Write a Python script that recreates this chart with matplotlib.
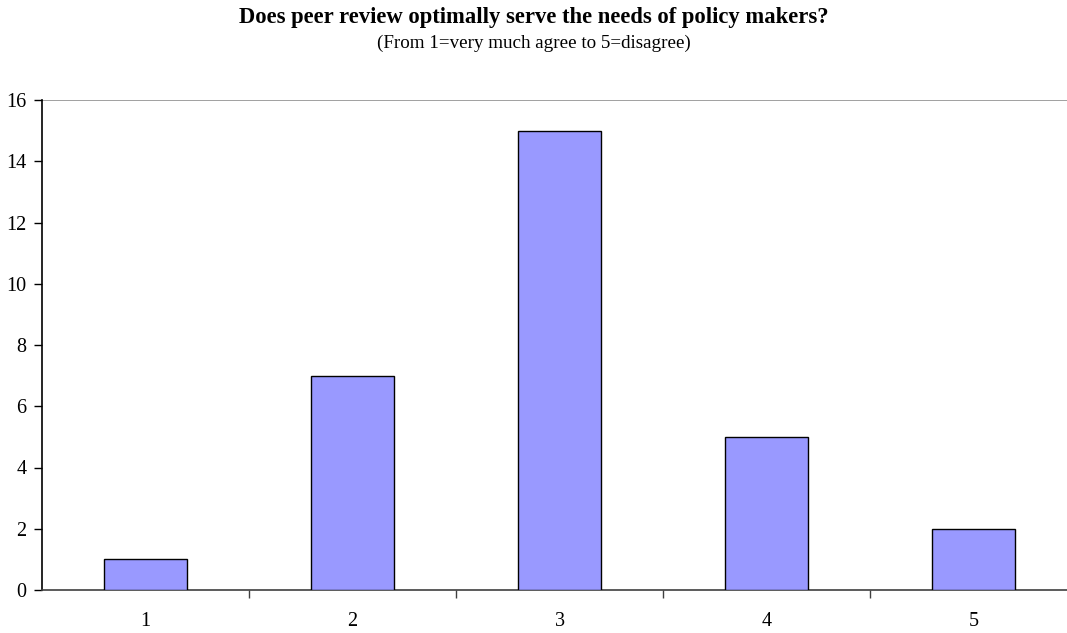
import matplotlib
matplotlib.use("Agg")
import matplotlib.pyplot as plt

categories = ["1", "2", "3", "4", "5"]
counts = [1, 7, 15, 5, 2]
y_ticks = [0, 2, 4, 6, 8, 10, 12, 14, 16]

title = "Does peer review optimally serve the needs of policy makers?"
subtitle = "(From 1=very much agree to 5=disagree)"

plt.rcParams["font.family"] = ["Liberation Serif", "DejaVu Serif"]

W, H = 1067, 633
fig = plt.figure(figsize=(W / 100, H / 100), dpi=100)
ax = fig.add_axes([42 / W, (H - 590) / H, 1035 / W, 490 / H])

x = list(range(len(categories)))
ax.bar(x, counts, width=0.4, color="#9999FF", edgecolor="black", linewidth=1.0, zorder=3)

ax.set_xlim(-0.5, len(categories) - 0.5)
ax.set_ylim(0, 16)
ax.set_yticks(y_ticks)
ax.set_yticklabels([str(v) for v in y_ticks], fontsize=14.5)

# category labels centred under bars, ticks on the boundaries
ax.set_xticks(x)
ax.set_xticklabels(categories, fontsize=14.5)
ax.tick_params(axis="x", which="major", length=0, pad=16)
ax.set_xticks([i + 0.5 for i in range(len(categories) - 1)], minor=True)
ax.tick_params(axis="x", which="minor", length=6, width=1, color="#404040", direction="out")
ax.tick_params(axis="y", length=6, width=1, direction="out", pad=5)

ax.axhline(16, color="#909090", linewidth=1.2, zorder=1)
ax.spines["top"].set_visible(False)
ax.spines["right"].set_visible(False)
ax.spines["left"].set_linewidth(1.2)
ax.spines["bottom"].set_linewidth(1.2)
ax.spines["bottom"].set_color("#404040")

fig.text(0.5, 1 - 17 / H, title, ha="center", va="center", fontsize=16.3, fontweight="bold")
fig.text(0.5, 1 - 43 / H, subtitle, ha="center", va="center", fontsize=13.7)

fig.savefig("out.png", dpi=100)
